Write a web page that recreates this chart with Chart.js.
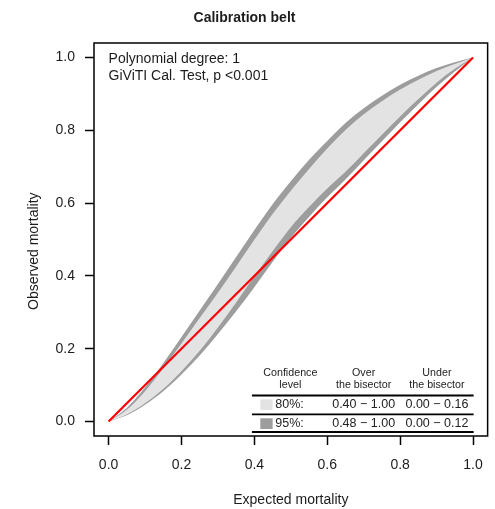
<!DOCTYPE html>
<html><head><meta charset="utf-8">
<script src="https://cdn.jsdelivr.net/npm/chart.js@4/dist/chart.umd.min.js"></script>
<style>html,body{margin:0;padding:0;background:#fff}#wrap{position:relative;width:495px;height:509px}</style>
</head><body><div id="wrap"><canvas id="c" width="495" height="509"></canvas></div>
<script>
// ---- data ----
const expected = [0,0.05,0.1,0.15,0.2,0.25,0.3,0.35,0.4,0.45,0.5,0.55,0.6,0.65,0.7,0.75,0.8,0.85,0.9,0.95,1];
const upper95  = [0,0.037,0.093,0.160,0.232,0.305,0.378,0.452,0.526,0.597,0.660,0.719,0.771,0.820,0.861,0.895,0.925,0.950,0.971,0.987,1];
const upper80  = [0,0.032,0.083,0.146,0.214,0.284,0.354,0.426,0.499,0.570,0.634,0.694,0.750,0.801,0.844,0.880,0.912,0.939,0.963,0.982,1];
const lower80  = [0,0.019,0.050,0.089,0.138,0.194,0.258,0.327,0.399,0.468,0.534,0.589,0.640,0.686,0.737,0.788,0.838,0.886,0.931,0.969,1];
const lower95  = [0,0.017,0.046,0.083,0.129,0.181,0.240,0.303,0.369,0.438,0.504,0.562,0.616,0.665,0.718,0.770,0.822,0.872,0.920,0.962,1];
const bisectorX = [0,1];
const bisectorY = [0,1];
const xTicks = [0,0.2,0.4,0.6,0.8,1.0];
const yTicks = [0,0.2,0.4,0.6,0.8,1.0];
const infoLines = ['Polynomial degree: 1','GiViTI Cal. Test, p <0.001'];
const tableHeader = [['Confidence','level'],['Over','the bisector'],['Under','the bisector']];
const confLevels = ['80%:','95%:'];
const overBisector = ['0.40 \u2212 1.00','0.48 \u2212 1.00'];
const underBisector = ['0.00 \u2212 0.16','0.00 \u2212 0.12'];

const FAM = "'Liberation Sans', Arial, sans-serif";
const LIGHT = '#e3e3e3', DARK = '#9d9d9d', TXT = '#1c1c1c';
const pts = (xs, ys) => xs.map((x, i) => ({x, y: ys[i]}));

const deco = {
  id: 'deco',
  afterDatasetsDraw(chart) {
    const {ctx, chartArea: a} = chart;
    const xs = chart.scales.x;
    ctx.save();
    ctx.strokeStyle = '#000'; ctx.lineWidth = 1.5;
    ctx.strokeRect(a.left, a.top, a.right - a.left, a.bottom - a.top);
    ctx.fillStyle = TXT;
    ctx.font = '14px ' + FAM;
    ctx.textAlign = 'left'; ctx.textBaseline = 'alphabetic';
    infoLines.forEach((t, i) => ctx.fillText(t, xs.getPixelForValue(0), a.top + 19.5 + i * 17));
    // table
    const R = a.right, B = a.bottom;
    const cols = [R - 197.3, R - 124, R - 50.7];
    ctx.textAlign = 'center';
    ctx.font = '10.7px ' + FAM;
    ctx.fillStyle = '#222';
    tableHeader.forEach((h, i) => {
      ctx.fillText(h[0], cols[i], B - 60.3);
      ctx.fillText(h[1], cols[i], B - 47.7);
    });
    ctx.strokeStyle = '#000'; ctx.lineWidth = 1.8;
    [B - 40.5, B - 21.7, B - 4].forEach(y => {
      ctx.beginPath(); ctx.moveTo(R - 235.7, y); ctx.lineTo(R - 14, y); ctx.stroke();
    });
    const rowY = [B - 27.7, B - 8.7];
    const sqCol = [LIGHT, DARK];
    ctx.font = '12.5px ' + FAM;
    rowY.forEach((y, i) => {
      ctx.fillStyle = sqCol[i];
      ctx.fillRect(R - 227.3, y - 9, 12.3, 10.7);
      ctx.fillStyle = '#222';
      ctx.textAlign = 'left';
      ctx.fillText(confLevels[i], R - 212.3, y);
      ctx.textAlign = 'center';
      ctx.fillText(overBisector[i], cols[1], y);
      ctx.fillText(underBisector[i], cols[2], y);
    });
    ctx.restore();
  }
};

const tickFont = {family: FAM, size: 14};
new Chart(document.getElementById('c'), {
  type: 'line',
  data: {
    datasets: [
      {data: pts(bisectorX, bisectorY), borderColor: '#ff0000', borderWidth: 2.2, pointRadius: 0, fill: false, order: 0},
      {data: pts(expected, upper80), borderWidth: 0, borderColor: 'rgba(0,0,0,0)', backgroundColor: LIGHT, pointRadius: 0, fill: '+1', cubicInterpolationMode: 'monotone', order: 1},
      {data: pts(expected, lower80), borderWidth: 0, borderColor: 'rgba(0,0,0,0)', pointRadius: 0, fill: false, cubicInterpolationMode: 'monotone', order: 2},
      {data: pts(expected, upper95), borderWidth: 0, borderColor: 'rgba(0,0,0,0)', backgroundColor: DARK, pointRadius: 0, fill: '+1', cubicInterpolationMode: 'monotone', order: 3},
      {data: pts(expected, lower95), borderWidth: 0, borderColor: 'rgba(0,0,0,0)', pointRadius: 0, fill: false, cubicInterpolationMode: 'monotone', order: 4}
    ]
  },
  options: {
    responsive: false, animation: false, devicePixelRatio: 1,
    layout: {padding: {left: 0, right: 6, top: 0, bottom: 0}},
    plugins: {
      legend: {display: false}, tooltip: {enabled: false},
      title: {display: true, text: 'Calibration belt', color: TXT,
        font: {family: FAM, size: 14, weight: 'bold'}, padding: {top: 10.1, bottom: 16.1}}
    },
    scales: {
      x: {
        type: 'linear', min: -0.04, max: 1.04,
        afterBuildTicks: s => { s.ticks = xTicks.map(v => ({value: v})); },
        afterFit: s => { s.height = 73; },
        ticks: {autoSkip: false, maxRotation: 0, padding: 12, font: tickFont, color: TXT, callback: v => Number(v).toFixed(1)},
        grid: {drawOnChartArea: false, drawTicks: true, tickLength: 9, tickColor: '#000', tickWidth: 1.5},
        border: {display: false},
        title: {display: true, text: 'Expected mortality', color: TXT, font: tickFont, padding: {top: 0, bottom: 0}}
      },
      y: {
        type: 'linear', min: -0.04, max: 1.04,
        afterBuildTicks: s => { s.ticks = yTicks.map(v => ({value: v})); },
        afterFit: s => { s.width = 94; },
        ticks: {autoSkip: false, padding: 10, font: tickFont, color: TXT, callback: v => Number(v).toFixed(1)},
        grid: {drawOnChartArea: false, drawTicks: true, tickLength: 9, tickColor: '#000', tickWidth: 1.5},
        border: {display: false},
        title: {display: true, text: 'Observed mortality\u00a0\u00a0\u00a0\u00a0\u00a0\u00a0', color: TXT, font: tickFont, padding: {top: 25.6, bottom: 0}}
      }
    }
  },
  plugins: [deco]
});
</script></body></html>
